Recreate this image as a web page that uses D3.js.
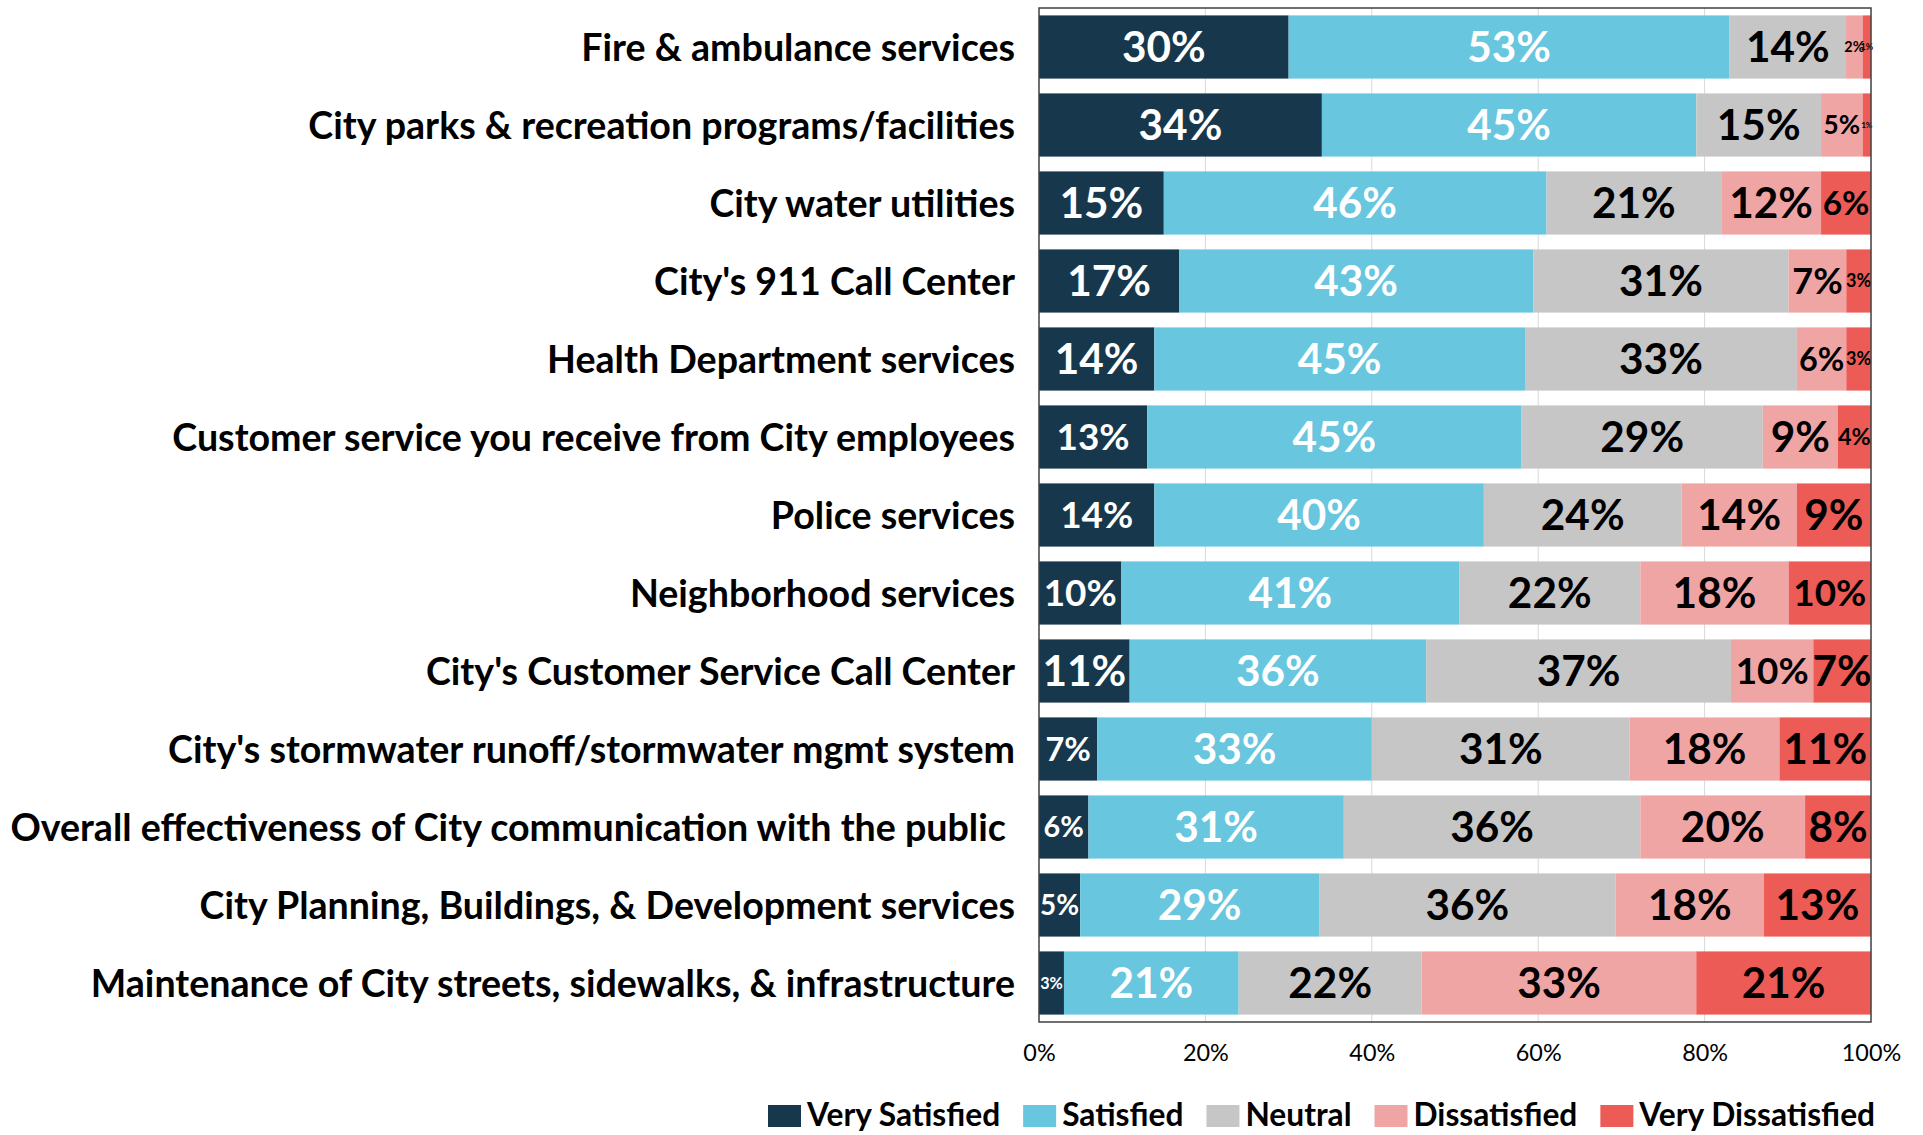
<!DOCTYPE html>
<html>
<head>
<meta charset="utf-8">
<script src="https://cdn.jsdelivr.net/npm/d3@7"></script>
<style>
  html, body { margin: 0; padding: 0; background: #ffffff; }
  svg { display: block; }
  text { font-family: Lato, "Open Sans", sans-serif; }
</style>
</head>
<body>
<svg id="chart" width="1923" height="1135"></svg>
<script>
// Satisfaction survey results, percent of respondents per service
const categories = [
  "Fire & ambulance services",
  "City parks & recreation programs/facilities",
  "City water utilities",
  "City's 911 Call Center",
  "Health Department services",
  "Customer service you receive from City employees",
  "Police services",
  "Neighborhood services",
  "City's Customer Service Call Center",
  "City's stormwater runoff/stormwater mgmt system",
  "Overall effectiveness of City communication with the public ",
  "City Planning, Buildings, & Development services",
  "Maintenance of City streets, sidewalks, & infrastructure"
];
const seriesNames = ["Very Satisfied", "Satisfied", "Neutral", "Dissatisfied", "Very Dissatisfied"];
const verySatisfied    = [30, 34, 15, 17, 14, 13, 14, 10, 11,  7,  6,  5,  3];
const satisfied        = [53, 45, 46, 43, 45, 45, 40, 41, 36, 33, 31, 29, 21];
const neutral          = [14, 15, 21, 31, 33, 29, 24, 22, 37, 31, 36, 36, 22];
const dissatisfied     = [ 2,  5, 12,  7,  6,  9, 14, 18, 10, 18, 20, 18, 33];
const veryDissatisfied = [ 1,  1,  6,  3,  3,  4,  9, 10,  7, 11,  8, 13, 21];
const xTickValues = [0, 0.2, 0.4, 0.6, 0.8, 1];

// Styling
const colors = ["#17374D", "#68C6DF", "#C6C6C6", "#F0A5A5", "#EC5B56"];
const labelColors = ["#ffffff", "#ffffff", "#000000", "#000000", "#000000"];
const fontScale = 0.9;            // Lato sizing relative to the nominal point sizes
const baseLabelSize = 47;
// smaller value labels where segments are narrow: "row:series" -> size
const labelSizeOverrides = {
  "0:3": 16, "0:4": 10,
  "1:3": 29, "1:4": 9,
  "2:4": 37,
  "3:3": 40, "3:4": 20,
  "4:3": 36, "4:4": 20,
  "5:0": 41, "5:4": 26,
  "6:0": 41,
  "7:0": 41, "7:4": 41,
  "8:3": 41,
  "9:0": 36,
  "10:0": 32,
  "11:0": 31,
  "12:0": 18
};

const seriesArrays = [verySatisfied, satisfied, neutral, dissatisfied, veryDissatisfied];
const rows = categories.map((c, i) => {
  const r = { category: c, index: i };
  seriesNames.forEach((s, k) => { r[s] = seriesArrays[k][i]; });
  return r;
});

const plot = { left: 1039, right: 1871, top: 8, bottom: 1022 };

const svg = d3.select("#chart");

const x = d3.scaleLinear().domain([0, 1]).range([plot.left, plot.right]);
const y = d3.scaleBand()
  .domain(categories)
  .range([plot.top, plot.bottom])
  .paddingInner(0.19)
  .paddingOuter(0.095);

const stack = d3.stack().keys(seriesNames).offset(d3.stackOffsetExpand);
const layers = stack(rows);

// gridlines
svg.append("g")
  .selectAll("line")
  .data(xTickValues.filter(v => v > 0 && v < 1))
  .join("line")
  .attr("x1", d => x(d)).attr("x2", d => x(d))
  .attr("y1", plot.top).attr("y2", plot.bottom)
  .attr("stroke", "#d9d9d9").attr("stroke-width", 1);

// stacked bars
const layerG = svg.append("g")
  .selectAll("g")
  .data(layers)
  .join("g")
  .attr("fill", (d, i) => colors[i]);

layerG.selectAll("rect")
  .data(d => d)
  .join("rect")
  .attr("x", d => x(d[0]))
  .attr("width", d => x(d[1]) - x(d[0]))
  .attr("y", d => y(d.data.category))
  .attr("height", y.bandwidth());

// value labels
const labelG = svg.append("g").attr("font-weight", 700).attr("text-anchor", "middle");
layers.forEach((layer, k) => {
  labelG.append("g")
    .attr("fill", labelColors[k])
    .selectAll("text")
    .data(layer)
    .join("text")
    .attr("x", d => (x(d[0]) + x(d[1])) / 2)
    .attr("y", d => y(d.data.category) + y.bandwidth() / 2)
    .attr("dy", "0.36em")
    .attr("font-size", d => {
      const key = d.data.index + ":" + k;
      const s = labelSizeOverrides[key] !== undefined ? labelSizeOverrides[key] : baseLabelSize;
      return s * fontScale;
    })
    .text(d => d.data[layer.key] + "%");
});

// plot area border
svg.append("rect")
  .attr("x", plot.left).attr("y", plot.top)
  .attr("width", plot.right - plot.left)
  .attr("height", plot.bottom - plot.top)
  .attr("fill", "none")
  .attr("stroke", "#404040")
  .attr("stroke-width", 1.5);

// category axis labels
svg.append("g")
  .attr("font-weight", 700)
  .attr("font-size", 37.6)
  .attr("text-anchor", "end")
  .attr("fill", "#000")
  .selectAll("text")
  .data(categories)
  .join("text")
  .attr("x", 1015)
  .attr("y", d => y(d) + y.bandwidth() / 2)
  .attr("dy", "0.36em")
  .style("white-space", "pre")
  .text(d => d);

// percentage axis
const xAxis = d3.axisBottom(x)
  .tickValues(xTickValues)
  .tickFormat(d3.format(".0%"))
  .tickSize(0)
  .tickPadding(22);
const axisG = svg.append("g")
  .attr("transform", `translate(0,${plot.bottom})`)
  .call(xAxis);
axisG.select(".domain").remove();
axisG.selectAll("text")
  .attr("font-family", "Lato, 'Open Sans', sans-serif")
  .attr("font-size", 26 * fontScale)
  .attr("fill", "#000");

// legend
const legend = svg.append("g").attr("font-weight", 700).attr("font-size", 31.7);
let lx = 768;
seriesNames.forEach((name, i) => {
  legend.append("rect")
    .attr("x", lx).attr("y", 1105)
    .attr("width", 33).attr("height", 22)
    .attr("fill", colors[i]);
  const t = legend.append("text")
    .attr("x", lx + 39).attr("y", 1126)
    .attr("fill", "#000")
    .text(name);
  lx = lx + 39 + t.node().getComputedTextLength() + 23;
});
</script>
</body>
</html>
